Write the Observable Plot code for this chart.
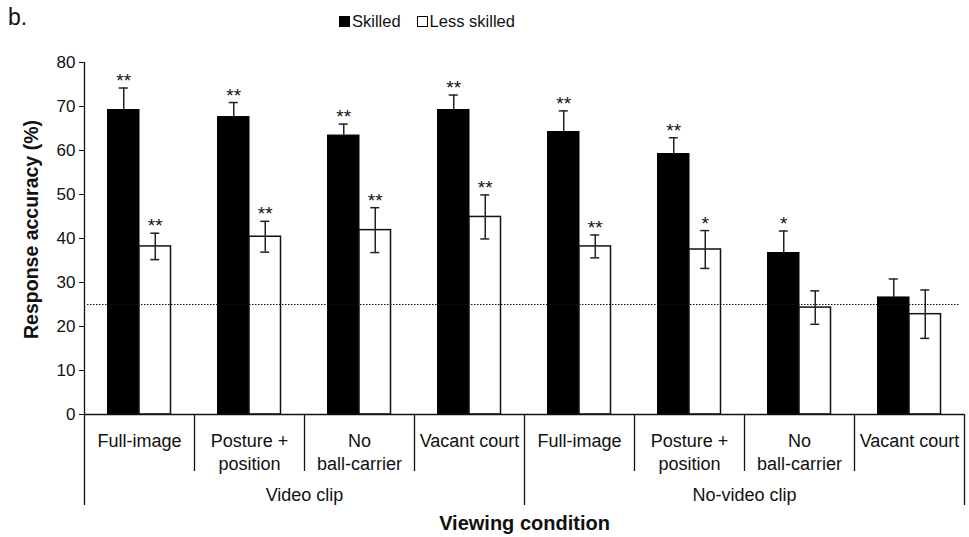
<!DOCTYPE html>
<html><head><meta charset="utf-8">
<script src="https://cdn.jsdelivr.net/npm/d3@7"></script>
<script src="https://cdn.jsdelivr.net/npm/@observablehq/plot@0.6"></script>
<style>
body{margin:0;background:#fff;font-family:"Liberation Sans",Arial,sans-serif;}
#wrap{position:relative;width:969px;height:537px;}
#head{position:relative;height:40px;}
#tag{position:absolute;left:8px;top:6px;font-size:23px;line-height:1;color:#111}
#legend{position:absolute;left:339px;top:12px;font-size:16.5px;line-height:18px;display:flex;align-items:center;color:#111}
.item{display:flex;align-items:center;margin-right:16px}
.sw{display:inline-block;width:9px;height:9px;border:1px solid #000;margin-right:2px}
</style></head>
<body><div id="wrap"><div id="head"><div id="tag">b.</div><div id="legend"></div></div><div id="chart"></div></div>
<script>
// ---- data ----
const groups = ["Video clip", "No-video clip"];
const conditions = ["Full-image", "Posture +\nposition", "No\nball-carrier", "Vacant court"];
const seriesNames = ["Skilled", "Less skilled"];
const seriesFill = ["#000", "#fff"];
const skilledMean = [69.2, 67.6, 63.4, 69.2, 64.2, 59.2, 36.7, 26.6];
const skilledSE   = [5.0, 3.3, 2.6, 3.4, 4.8, 3.7, 5.0, 4.2];
const lessMean    = [38.2, 40.4, 41.9, 44.9, 38.2, 37.5, 24.3, 22.8];
const lessSE      = [3.0, 3.5, 5.1, 5.0, 2.6, 4.3, 3.8, 5.5];
const skilledSig  = ["**", "**", "**", "**", "**", "**", "*", ""];
const lessSig     = ["**", "**", "**", "**", "**", "*", "", ""];
const chanceLevel = 25;
const yTicks = [0, 10, 20, 30, 40, 50, 60, 70, 80];

// ---- table ----
const keys = groups.flatMap(g => conditions.map(c => g + "|" + c));
const rows = keys.map((k, i) => ({
  key: k,
  group: groups[Math.floor(i / conditions.length)],
  cond: conditions[i % conditions.length],
  ci: i % conditions.length,
  sm: skilledMean[i], sse: skilledSE[i], ssig: skilledSig[i],
  lm: lessMean[i], lse: lessSE[i], lsig: lessSig[i]
}));
const groupRows = groups.map(g => ({group: g, key: g + "|" + conditions[1]}));

// ---- legend ----
const leg = document.getElementById("legend");
seriesNames.forEach((n, i) => {
  const it = document.createElement("div"); it.className = "item";
  const sw = document.createElement("span"); sw.className = "sw"; sw.style.background = seriesFill[i];
  it.appendChild(sw); it.appendChild(document.createTextNode(n));
  leg.appendChild(it);
});

// ---- chart ----
const half = 55;       // half band
const bw = 31.5;       // bar width
const off = bw / 2;    // error bar offset from band centre
const cap = 4.5;
const ink = "#111";

const chart = Plot.plot({
  width: 969, height: 497,
  marginTop: 22, marginBottom: 123, marginLeft: 84, marginRight: 5,
  style: {fontFamily: "'Liberation Sans', Arial, sans-serif", fontSize: "17px", color: ink, background: "#fff", overflow: "visible"},
  x: {type: "band", domain: keys, padding: 0, axis: null},
  y: {domain: [0, 80], ticks: yTicks, tickSize: 5, tickPadding: 4, label: null},
  marks: [
    Plot.barY(rows, {x: "key", y: "sm", fill: seriesFill[0], stroke: "#000", strokeWidth: 1, insetLeft: half - bw, insetRight: half}),
    Plot.barY(rows, {x: "key", y: "lm", fill: seriesFill[1], stroke: ink, strokeWidth: 1.5, insetLeft: half, insetRight: half - bw}),
    Plot.ruleY([chanceLevel], {stroke: ink, strokeWidth: 1.2, strokeDasharray: "1.5,1.5", insetLeft: 3, insetRight: 4}),
    // error bars
    Plot.ruleX(rows, {x: "key", y1: "sm", y2: d => d.sm + d.sse, dx: -off, stroke: "#222", strokeWidth: 1.5}),
    Plot.tickY(rows, {x: "key", y: d => d.sm + d.sse, dx: -off, insetLeft: half - cap, insetRight: half - cap, stroke: "#222", strokeWidth: 1.5}),
    Plot.ruleX(rows, {x: "key", y1: d => d.lm - d.lse, y2: d => d.lm + d.lse, dx: off, stroke: "#222", strokeWidth: 1.5}),
    Plot.tickY(rows, {x: "key", y: d => d.lm + d.lse, dx: off, insetLeft: half - cap, insetRight: half - cap, stroke: "#222", strokeWidth: 1.5}),
    Plot.tickY(rows, {x: "key", y: d => d.lm - d.lse, dx: off, insetLeft: half - cap, insetRight: half - cap, stroke: "#222", strokeWidth: 1.5}),
    // significance
    Plot.text(rows, {x: "key", y: d => d.sm + d.sse, text: "ssig", dx: -off, dy: -1, lineAnchor: "bottom", fontSize: 19}),
    Plot.text(rows, {x: "key", y: d => d.lm + d.lse, text: "lsig", dx: off, dy: -1, lineAnchor: "bottom", fontSize: 19}),
    // axes lines
    Plot.ruleY([0], {stroke: ink, strokeWidth: 1.3}),
    Plot.ruleX([keys[0]], {dx: -half, stroke: ink, strokeWidth: 1.3, insetBottom: -91}),
    // category dividers
    Plot.ruleX(rows.filter(d => d.ci > 0), {x: "key", dx: -half, stroke: ink, strokeWidth: 1.3, insetTop: 352, insetBottom: -57}),
    Plot.ruleX([keys[conditions.length]], {dx: -half, stroke: ink, strokeWidth: 1.3, insetTop: 352, insetBottom: -91}),
    Plot.ruleX([keys[keys.length - 1]], {dx: half, stroke: ink, strokeWidth: 1.3, insetTop: 352, insetBottom: -91}),
    // category labels
    Plot.text(rows, {x: "key", text: "cond", frameAnchor: "bottom", lineAnchor: "top", dy: 17, fontSize: 18, lineHeight: 1.25}),
    Plot.text(groupRows, {x: "key", text: "group", dx: half, frameAnchor: "bottom", lineAnchor: "top", dy: 74, fontSize: 18}),
    // titles
    Plot.text(["Viewing condition"], {frameAnchor: "bottom", lineAnchor: "top", dy: 101, fontSize: 20, fontWeight: "bold"}),
    Plot.text(["Response accuracy (%)"], {frameAnchor: "left", textAnchor: "middle", lineAnchor: "middle", dx: -53, dy: -9, rotate: -90, fontSize: 19.5, fontWeight: "bold"})
  ]
});
document.getElementById("chart").appendChild(chart);
</script>
</body></html>
